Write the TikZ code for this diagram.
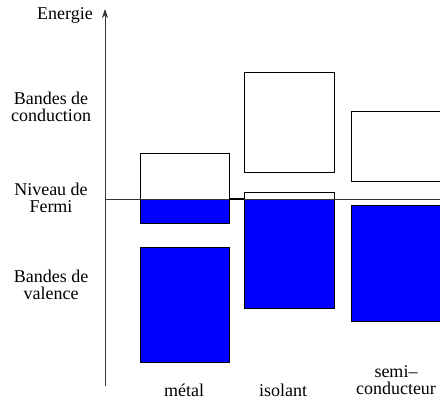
\documentclass[tikz,border=0pt]{standalone}
\usepackage{fontspec}
\setmainfont{Liberation Serif}
\newfontfamily\lserif{Liberation Serif}
\usetikzlibrary{arrows.meta}
\definecolor{bandblue}{RGB}{0,0,255}
\begin{document}
\begin{tikzpicture}[x=1pt,y=-1pt,
  lbl/.style={font=\lserif\fontsize{18}{17}\selectfont,align=center,inner sep=0pt},
  emptyband/.style={draw=black,line width=0.9pt,fill=white},
  fullband/.style={draw=black,line width=0.9pt,fill=bandblue}]
\useasboundingbox (0,0) rectangle (440,403);
% boxes
\draw[emptyband] (140,153) rectangle (229,199);
\draw[fullband] (140,199) rectangle (229,223);
\draw[fullband] (140,247) rectangle (229,362);
\draw[emptyband] (244,72) rectangle (334,172);
\draw[emptyband] (244,192) rectangle (334,199);
\draw[fullband] (244,199) rectangle (334,308);
\draw[emptyband] (351,111) rectangle (441,181);
\draw[fullband] (351,205) rectangle (441,321);
% axis
\coordinate (axb) at (105,386);
\coordinate (axt) at (105,9);
\draw[gray!40!black,line width=1pt,-{Stealth[length=9pt,width=6pt]}] (axb) -- (axt);
\coordinate (fl) at (105,199);
\coordinate (fr) at (440,199);
\draw[gray!40!black,line width=0.9pt] (fl) -- (fr);
\coordinate (gl) at (229,199);
\coordinate (gr) at (244,199);
\draw[black,line width=1.4pt] (gl) -- (gr);
% labels
\node[lbl,anchor=east] (en) at (93,15) {Energie};
\node[lbl] (bc) at (51,107) {Bandes de\\conduction};
\node[lbl] (nf) at (51,198) {Niveau de\\Fermi};
\node[lbl] (bv) at (51,285) {Bandes de\\valence};
\node[lbl] (me) at (184,390) {métal};
\node[lbl] (is) at (283,390) {isolant};
\node[lbl,anchor=base] (sc) at (396,395) {semi–\\conducteur};
\end{tikzpicture}
\end{document}
